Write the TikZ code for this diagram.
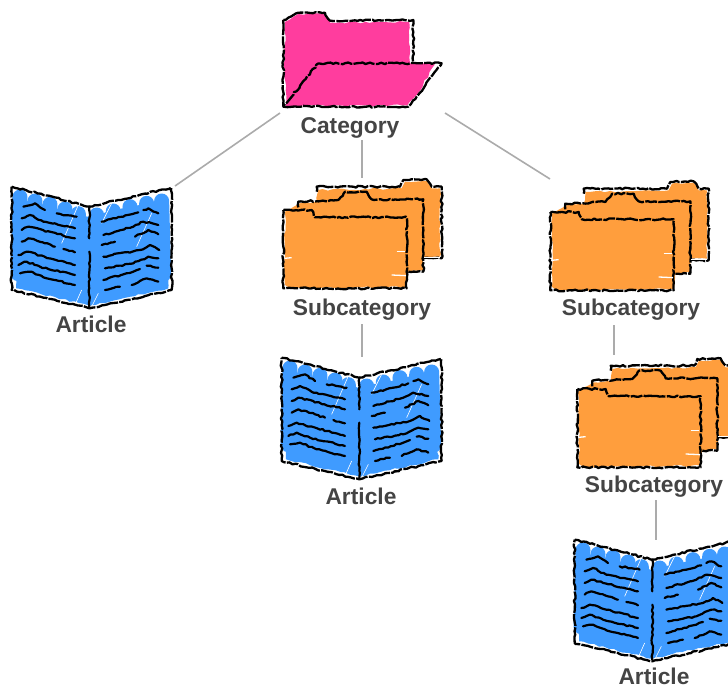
\documentclass[tikz,border=0pt]{standalone}
\usepackage{fontspec}
\setmainfont{Liberation Sans}
\usetikzlibrary{decorations.pathmorphing}
\definecolor{pinkfill}{HTML}{FF3D9E}
\definecolor{orangefill}{HTML}{FF9E3D}
\definecolor{bluefill}{HTML}{3F9BFF}
\definecolor{labelgray}{HTML}{444444}
\definecolor{linkgray}{HTML}{ABABAB}
\tikzset{
  ink/.style={draw=black,line width=2.3pt,line join=round,decorate,decoration={random steps,segment length=3pt,amplitude=.9pt},dash pattern=on 22pt off 1.4pt on 12pt off 1.2pt},
  inktext/.style={draw=black,line width=2.2pt,line join=round,line cap=round,decorate,decoration={random steps,segment length=3pt,amplitude=.8pt}},
  paint/.style={line join=round,decorate,decoration={random steps,segment length=5pt,amplitude=1pt}},
  label/.style={text=labelgray,font=\fontsize{22.8}{24}\selectfont\bfseries,inner sep=0pt,anchor=base},
  link/.style={draw=linkgray,line width=1.6pt},
  zoomed/.style={x=0.3333pt,y=-0.3333pt},
  bookstroke/.style={draw=bluefill,line width=15pt,line cap=round},
  slit/.style={draw=white,line width=.6pt}
}
\newcommand{\bookicon}[2]{%
\begin{scope}[xshift=#1pt,yshift=-#2pt,zoomed]
  \fill[bluefill,paint] (48,70) -- (262,125) -- (490,75) -- (505,340) -- (268,392) -- (48,340) -- cycle;
  \foreach \a/\b in {60/66,105/78,150/88,195/102,235/116}{\draw[bookstroke] (\a,\b) -- (\a-6,\b+230);}
  \foreach \a/\b in {290/120,340/108,390/95,440/85,485/78}{\draw[bookstroke] (\a,\b) -- (\a+6,\b+220);}
  \draw[slit] (235,90) -- (185,205);
  \draw[slit] (335,85) -- (305,145);
  \draw[slit] (455,115) -- (410,215);
  \draw[slit] (245,345) -- (225,390);
  \draw[slit] (295,355) -- (275,395);
  \draw[ink] (35,35) -- (268,95) -- (515,38) -- (515,345) -- (268,400) -- (35,345) -- cycle;
  \draw[inktext] (268,95) -- (268,190);
  \draw[inktext] (268,230) -- (268,395);
  \draw[inktext] (70,95) -- (105,85) -- (135,105);
  \draw[inktext] (170,115) -- (230,125);
  \draw[inktext] (65,130) -- (90,120) -- (130,140) -- (225,160);
  \draw[inktext] (65,165) -- (85,155) -- (225,190);
  \draw[inktext] (65,200) -- (85,190) -- (135,205) -- (165,215);
  \draw[inktext] (190,222) -- (225,232);
  \draw[inktext] (55,240) -- (80,230) -- (225,270);
  \draw[inktext] (55,270) -- (80,260) -- (120,275) -- (225,300);
  \draw[inktext] (60,295) -- (90,290) -- (140,310) -- (225,330);
  \draw[inktext] (305,140) -- (370,125) -- (415,112);
  \draw[inktext] (430,105) -- (445,100) -- (475,115);
  \draw[inktext] (310,180) -- (400,155) -- (430,140) -- (475,150);
  \draw[inktext] (305,210) -- (345,200);
  \draw[inktext] (405,185) -- (445,165) -- (475,178);
  \draw[inktext] (310,245) -- (420,225) -- (450,210) -- (478,225);
  \draw[inktext] (315,280) -- (400,265) -- (445,245) -- (475,250);
  \draw[inktext] (310,315) -- (400,290) -- (420,282);
  \draw[inktext] (440,272) -- (475,278);
  \draw[inktext] (315,345) -- (360,335);
  \draw[inktext] (395,330) -- (440,310) -- (475,320);
\end{scope}}
\newcommand{\stackicon}[2]{%
\begin{scope}[xshift=#1pt,yshift=-#2pt,zoomed]
  \fill[orangefill,paint] (145,60) -- (395,55) -- (405,35) -- (470,33) -- (485,55) -- (510,55) -- (510,260) -- (460,260) -- (460,300) -- (415,305) -- (410,350) -- (60,355) -- (45,345) -- (45,125) -- (90,100) -- (140,95) -- cycle;
  \draw[ink] (140,65) -- (140,50) -- (390,50) -- (400,30) -- (470,28) -- (485,50) -- (515,50) -- (515,265) -- (460,265);
  \draw[ink] (85,112) -- (85,95) -- (205,90) -- (225,65) -- (290,65) -- (305,88) -- (460,88) -- (460,305) -- (415,305);
  \draw[ink] (40,120) -- (125,120) -- (135,142) -- (410,142) -- (410,355) -- (40,355) -- cycle;
  \draw[slit,line width=1.3pt] (365,315) -- (408,317);
  \draw[slit,line width=1.3pt] (380,245) -- (406,245);
  \draw[slit,line width=1.3pt] (44,265) -- (65,263);
  \draw[slit,line width=1.3pt] (462,262) -- (510,262);
\end{scope}}
\begin{document}
\begin{tikzpicture}[x=1pt,y=-1pt]
  \pgfmathsetseed{42}
  \useasboundingbox (0,0) rectangle (728,686);
  % Category folder
  \begin{scope}[xshift=270pt,zoomed]
    \fill[pinkfill,paint] (44,66) -- (85,42) -- (165,42) -- (180,68) -- (418,66) -- (420,190) -- (495,193) -- (440,285) -- (412,316) -- (48,318) -- (44,210) -- cycle;
    \draw[ink] (40,60) -- (85,38) -- (165,38) -- (180,62) -- (430,60) -- (430,190);
    \draw[ink] (145,190) -- (515,190) -- (440,290) -- (415,320) -- (40,320) -- cycle;
    \draw[ink] (40,320) -- (40,60);
  \end{scope}
  % Icons
  \bookicon{0}{175}
  \stackicon{270}{170}
  \stackicon{537}{172}
  \bookicon{270}{346}
  \stackicon{564}{349}
  \bookicon{563}{528}
  % Labels
  \node[label] (category) at (350,133) {Category};
  \node[label] (art1) at (91,332) {Article};
  \node[label] (sub1) at (362,315) {Subcategory};
  \node[label] (sub2) at (631,315) {Subcategory};
  \node[label] (art2) at (361,504) {Article};
  \node[label] (sub3) at (654,492) {Subcategory};
  \node[label] (art3) at (654,684) {Article};
  % Connector ends
  \coordinate (catL) at (280,113);
  \coordinate (catM) at (362,140);
  \coordinate (catR) at (445,113);
  \coordinate (bookA) at (175,186);
  \coordinate (stackA) at (362,178);
  \coordinate (stackB) at (550,179);
  \coordinate (subAb) at (362,324);
  \coordinate (bookB) at (362,357);
  \coordinate (subBb) at (614,325);
  \coordinate (stackC) at (614,355);
  \coordinate (subCb) at (656,500);
  \coordinate (bookC) at (656,540);
  \draw[link] (catL) -- (bookA);
  \draw[link] (catM) -- (stackA);
  \draw[link] (catR) -- (stackB);
  \draw[link] (subAb) -- (bookB);
  \draw[link] (subBb) -- (stackC);
  \draw[link] (subCb) -- (bookC);
\end{tikzpicture}
\end{document}
